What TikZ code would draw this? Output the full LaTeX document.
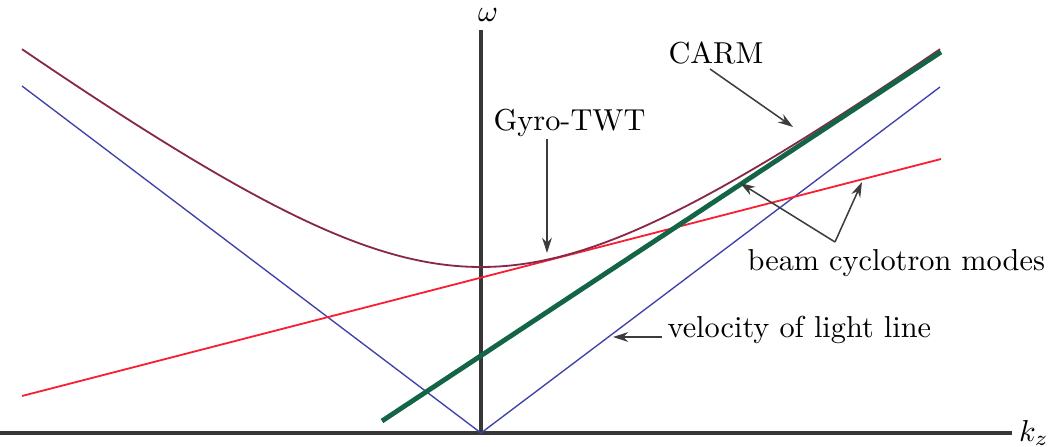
\documentclass[tikz,border=0pt]{standalone}
\usetikzlibrary{arrows.meta}
\definecolor{axisgray}{RGB}{55,55,55}
\definecolor{hypcol}{RGB}{135,40,75}
\definecolor{bluecol}{RGB}{65,65,170}
\definecolor{redcol}{RGB}{250,30,50}
\definecolor{greencol}{RGB}{20,100,70}
\definecolor{arrcol}{RGB}{60,60,60}
\begin{document}
\begin{tikzpicture}[x=0.33pt,y=-0.33pt,
  axisline/.style={draw=axisgray,line width=1.3pt},
  lightline/.style={draw=bluecol,line width=0.45pt},
  beamline/.style={draw=redcol,line width=0.6pt},
  wgline/.style={draw=hypcol,line width=0.6pt},
  carmline/.style={draw=greencol,line width=1.6pt},
  callout/.style={draw=arrcol,line width=0.5pt,-{Stealth[length=5pt,width=3.2pt]}},
  lbl/.style={inner sep=0pt,anchor=base west}]
\useasboundingbox (0,0) rectangle (1059,447);
% axes
\coordinate (o) at (481,433);
\coordinate (xe) at (1012,433);
\coordinate (xs) at (0,433);
\coordinate (yt) at (481,30);
\draw[axisline] (xs) -- (xe);
\draw[axisline] (o) -- (yt);
\node (w) at (488,15) {$\omega$};
\node (kz) at (1034,433) {$k_z$};
% light lines
\coordinate (bl) at (22,86);
\coordinate (br) at (940,87);
\draw[lightline] (bl) -- (o) -- (br);
% beam line
\coordinate (rl) at (22,396);
\coordinate (rr) at (941,159);
\draw[beamline] (rl) -- (rr);
% waveguide hyperbola
\draw[wgline] plot[domain=-459:459,samples=120,smooth]
  ({481+\x},{433-100*sqrt(1.66*1.66+(0.754*\x/100)*(0.754*\x/100))});
% CARM beam line
\coordinate (gl) at (382,421);
\coordinate (gr) at (941,52);
\draw[carmline] (gl) -- (gr);
% labels
\node[lbl] (carm) at (668,63) {CARM};
\node[lbl] (gyro) at (493,131) {Gyro-TWT};
\node[lbl] (beam) at (747,270) {beam cyclotron modes};
\node[lbl] (vel) at (667,338) {velocity of light line};
% callouts
\coordinate (carmS) at (710,69);
\coordinate (carmE) at (793,127);
\draw[callout] (carmS) -- (carmE);
\coordinate (gyroS) at (547,139);
\coordinate (gyroE) at (547,253);
\draw[callout] (gyroS) -- (gyroE);
\coordinate (bj) at (835,242);
\coordinate (b1) at (740,183);
\coordinate (b2) at (862,182);
\draw[callout] (bj) -- (b1);
\draw[callout] (bj) -- (b2);
\coordinate (velS) at (662,337);
\coordinate (velE) at (613,337);
\draw[callout] (velS) -- (velE);
\end{tikzpicture}
\end{document}
